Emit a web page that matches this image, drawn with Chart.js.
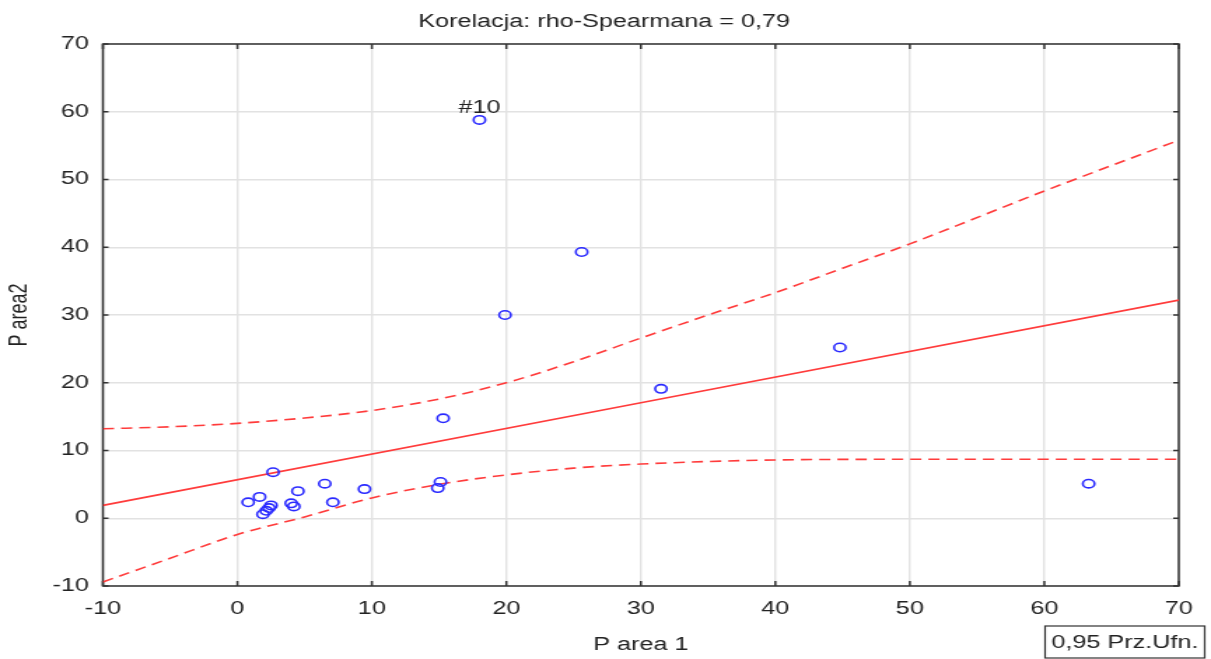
<!DOCTYPE html>
<html>
<head>
<meta charset="utf-8">
<script src="https://cdn.jsdelivr.net/npm/chart.js@4.4.1/dist/chart.umd.min.js"></script>
<style>
  html, body { margin: 0; padding: 0; background: #fff; overflow: hidden; }
  canvas { display: block; }
</style>
</head>
<body>
<!-- the source picture is stretched sideways, so the canvas is too -->
<canvas id="chart" width="865" height="659" style="width:1211px;height:659px"></canvas>
<script>
const TITLE = 'Korelacja: rho-Spearmana = 0,79';
const X_TITLE = 'P area 1';
const Y_TITLE = 'P area2';
const BOX_TEXT = '0,95 Prz.Ufn.';
const AXIS_MIN = -10, AXIS_MAX = 70, AXIS_STEP = 10;

// observations (first one carries the "#10" label)
const pArea1 = [18.0, 25.6, 19.9, 44.8, 31.5, 15.3, 63.3, 2.65, 15.1, 14.9, 9.45,
                6.5, 4.5, 7.1, 4.0, 4.2, 0.8, 1.65, 2.5, 2.35, 2.15, 1.9];
const pArea2 = [58.8, 39.3, 30.0, 25.2, 19.1, 14.75, 5.1, 6.8, 5.35, 4.45, 4.3,
                5.1, 4.0, 2.35, 2.2, 1.75, 2.35, 3.15, 1.9, 1.5, 1.1, 0.6];
const pointNames = ['#10'];

// regression line
const fitX = [-10, 70];
const fitY = [1.9, 32.2];

// 0.95 confidence band
const upperX = [-10, -5, 0, 5, 10, 15, 20, 25, 30, 35, 40, 45, 50, 60, 70];
const upperY = [13.2, 13.5, 14.0, 14.8, 15.9, 17.6, 20.0, 23.1, 26.6, 30.0, 33.3, 36.9, 40.5, 48.3, 55.8];
const lowerX = [-10, -5, 0, 5, 10, 15, 20, 25, 30, 40, 50, 60, 70];
const lowerY = [-9.4, -5.9, -2.4, 0.2, 3.0, 5.0, 6.4, 7.4, 8.0, 8.6, 8.7, 8.7, 8.7];

const FONT = '"Liberation Sans", Arial, sans-serif';
const FONT_SIZE = 18;
const TEXT = '#222';
const RED = '#ff3b3b';
const BLUE = '#2a2aff';

const toXY = (xs, ys) => xs.map((x, i) => ({ x, y: ys[i] }));

// frame with inward ticks, title, point label and the legend box
const decorations = {
    id: 'decorations',
    beforeDatasetsDraw(chart) {
        const { ctx, chartArea: a, scales: { x, y } } = chart;
        ctx.save();
        ctx.strokeStyle = '#333';
        ctx.lineWidth = 1.5;
        ctx.strokeRect(a.left, a.top, a.right - a.left, a.bottom - a.top);
        ctx.beginPath();
        x.ticks.forEach(t => {
            const px = x.getPixelForValue(t.value);
            ctx.moveTo(px, a.bottom); ctx.lineTo(px, a.bottom - 5);
            ctx.moveTo(px, a.top);    ctx.lineTo(px, a.top + 5);
        });
        y.ticks.forEach(t => {
            const py = y.getPixelForValue(t.value);
            ctx.moveTo(a.left, py);  ctx.lineTo(a.left + 4, py);
            ctx.moveTo(a.right, py); ctx.lineTo(a.right - 4, py);
        });
        ctx.stroke();
        ctx.restore();
    },
    afterDraw(chart) {
        const { ctx } = chart;
        ctx.save();
        ctx.font = `${FONT_SIZE}px ${FONT}`;
        ctx.fillStyle = TEXT;
        ctx.textAlign = 'center';
        ctx.textBaseline = 'middle';
        ctx.fillText(TITLE, 431.5, 22.5);
        const pts = chart.getDatasetMeta(0).data;
        pointNames.forEach((name, i) => {
            if (name && pts[i]) ctx.fillText(name, pts[i].x, pts[i].y - 12);
        });
        // confidence level box
        ctx.strokeStyle = '#333';
        ctx.lineWidth = 1.2;
        ctx.strokeRect(746.5, 626, 114, 32);
        ctx.fillText(BOX_TEXT, 803.5, 643);
        ctx.restore();
    }
};

const lineSet = (data, dashed) => ({
    data,
    showLine: true,
    borderColor: RED,
    borderWidth: 1.6,
    borderDash: dashed ? [8, 5] : [],
    pointRadius: 0,
    cubicInterpolationMode: 'monotone',
    fill: false,
    order: 1
});

const axis = (title, extra) => ({
    type: 'linear',
    min: AXIS_MIN,
    max: AXIS_MAX,
    border: { display: false },
    grid: { color: '#e2e2e2', lineWidth: 1.4, drawTicks: false },
    ticks: { stepSize: AXIS_STEP, color: TEXT, font: { size: FONT_SIZE } },
    title: { display: true, text: title, color: TEXT, font: { size: FONT_SIZE } },
    ...extra
});

Chart.defaults.font.family = FONT;
Chart.defaults.color = TEXT;

new Chart(document.getElementById('chart'), {
    type: 'scatter',
    data: {
        datasets: [
            {
                data: toXY(pArea1, pArea2),
                pointStyle: 'circle',
                pointRadius: 4.2,
                pointBorderWidth: 1.6,
                borderColor: BLUE,
                backgroundColor: 'rgba(0,0,0,0)',
                order: 0
            },
            lineSet(toXY(fitX, fitY), false),
            lineSet(toXY(upperX, upperY), true),
            lineSet(toXY(lowerX, lowerY), true)
        ]
    },
    options: {
        responsive: false,
        devicePixelRatio: 1,
        animation: false,
        layout: { padding: { top: 44, right: 23, bottom: 0, left: 0 } },
        plugins: {
            legend: { display: false },
            tooltip: { enabled: false },
            title: { display: false }
        },
        scales: {
            x: axis(X_TITLE, {
                position: 'bottom',
                afterFit(scale) { scale.height = 73; }
            }),
            y: axis(Y_TITLE, {
                position: 'left',
                afterFit(scale) { scale.width = 73.5; }
            })
        }
    },
    plugins: [decorations]
});

// tick / title paddings
const c = Chart.getChart('chart');
c.options.scales.x.ticks.padding = 12;
c.options.scales.x.title.padding = { top: 0, bottom: 3 };
c.options.scales.y.ticks.padding = 10;
c.options.scales.y.title.padding = { top: 3.5, bottom: 0 };
c.update();
</script>
</body>
</html>
